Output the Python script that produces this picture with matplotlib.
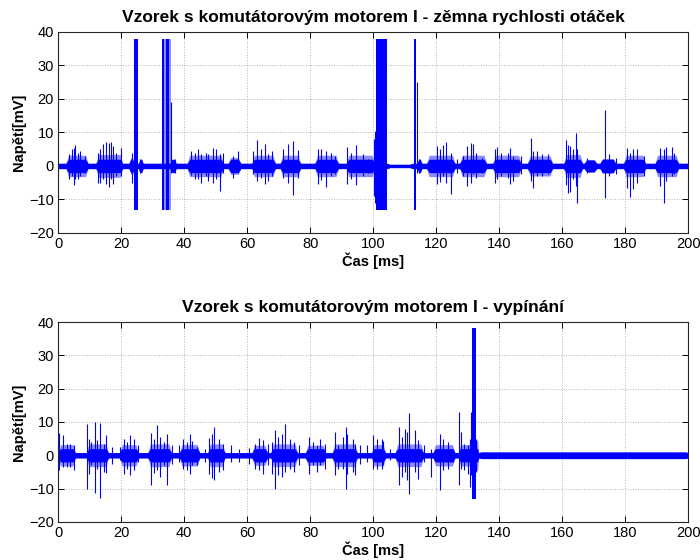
import matplotlib
matplotlib.use('Agg')
import matplotlib.pyplot as plt

plt.rcParams['font.family'] = ['Liberation Sans', 'DejaVu Sans']

# --- horní graf: změna rychlosti otáček ---
top_title = 'Vzorek s komutátorovým motorem I - zěmna rychlosti otáček'

# úseky s aktivitou komutátoru (ms) a rozkmit šumu v nich (mV)
top_burst_start = [2.5, 12.0, 22.5, 25.5, 35.5, 41.0, 54.0, 61.5, 70.5, 81.5, 91.5, 104.5, 114.0,
                   117.0, 127.5, 138.0, 149.0, 160.5, 167.0, 172.0, 179.5, 189.5]
top_burst_end = [9.5, 20.5, 24.2, 27.0, 37.5, 52.5, 58.0, 69.0, 77.0, 89.0, 100.5, 112.5, 115.5,
                 126.0, 136.0, 147.0, 157.0, 166.5, 171.0, 177.0, 186.5, 197.0]
top_burst_amp = [3.2, 3.4, 2.5, 2.0, 2.0, 3.2, 2.5, 3.2, 3.2, 3.2, 3.2, 0.5, 2.0,
                 3.2, 3.2, 3.2, 3.0, 3.4, 1.8, 2.2, 3.2, 3.2]

# jednotlivé špičky
top_spike_t = [3.5, 4.5, 5.0, 5.5, 6.2, 7.1, 8.4, 12.6, 13.2, 14.1, 15.2, 16.0, 16.8, 17.5, 18.3,
               19.9, 23.5, 26.0, 35.9, 37.0, 42.3, 43.5, 44.4, 45.5, 46.8, 47.5, 49.3, 50.2, 51.5,
               52.5, 55.5, 57.0, 62.0, 63.3, 64.4, 65.7, 66.6, 68.0, 71.5, 73.0, 74.5, 76.0, 82.4,
               83.6, 85.0, 86.5, 88.0, 91.6, 93.1, 94.7, 96.8, 98.4, 100.2, 100.5, 113.9, 114.5,
               120.3, 121.2, 122.2, 123.3, 124.7, 126.7, 128.6, 129.7, 131.2, 131.7, 132.6, 134.5,
               138.6, 139.3, 140.5, 142.9, 143.5, 144.5, 147.0, 150.0, 150.8, 152.0, 153.5, 155.5,
               161.2, 161.9, 162.5, 163.5, 164.5, 164.8, 168.0, 173.5, 175.0, 177.0, 180.5, 181.5,
               182.6, 183.8, 186.0, 191.0, 192.4, 193.1, 195.0, 195.6]
top_spike_hi = [3.5, 5.0, 5.5, 6.3, 4.0, 4.5, 3.0, 4.0, 5.0, 6.5, 7.2, 6.8, 7.0, 6.1, 4.0, 5.4,
                4.0, 2.0, 19.0, 2.0, 4.5, 4.0, 5.0, 3.5, 4.0, 3.5, 5.5, 5.0, 3.5, 4.0, 3.0, 4.6,
                4.4, 7.7, 5.0, 6.6, 3.5, 4.5, 5.0, 6.5, 7.3, 4.8, 5.0, 5.2, 4.5, 4.0, 3.0, 5.7,
                4.0, 6.2, 3.5, 2.0, 8.0, 10.5, 25.0, 2.0, 6.0, 5.0, 6.2, 7.0, 4.0, 2.0, 3.0, 6.0,
                6.9, 6.5, 4.0, 2.5, 5.0, 5.8, 4.0, 4.0, 5.5, 3.0, 3.0, 8.2, 4.5, 4.6, 3.5, 3.5,
                7.8, 6.3, 6.0, 5.0, 9.9, 5.0, 2.5, 16.8, 3.5, 2.5, 5.5, 4.0, 5.0, 5.0, 3.0, 5.5,
                5.0, 5.8, 5.6, 4.0]
top_spike_lo = [-4.0, -3.0, -5.8, -4.0, -4.0, -3.0, -2.0, -5.0, -5.2, -4.0, -5.5, -6.4, -4.0, -5.5,
                -3.0, -3.0, -5.0, -2.0, -2.0, -2.0, -2.8, -4.0, -3.8, -5.0, -3.0, -4.5, -5.0, -4.0,
                -7.5, -2.0, -3.5, -2.0, -2.5, -4.5, -3.6, -5.5, -4.5, -3.0, -3.5, -5.0, -8.7, -3.5,
                -5.5, -4.2, -6.3, -3.0, -2.5, -5.5, -4.0, -5.8, -3.0, -2.0, -9.0, -11.0, -2.0, -2.0,
                -5.5, -4.8, -3.0, -5.0, -8.3, -2.0, -3.0, -6.0, -5.0, -2.5, -3.5, -2.0, -5.0, -4.0,
                -3.0, -3.5, -5.5, -4.5, -2.5, -4.5, -6.6, -3.0, -3.0, -2.5, -5.8, -8.0, -7.8, -4.0,
                -6.0, -11.0, -2.0, -9.5, -3.0, -2.5, -6.7, -9.3, -7.0, -5.0, -3.0, -6.0, -11.0,
                -4.5, -3.0, -2.5]

# saturované úseky (ms), poslední sloupec = hustota čar
top_block_start = [24.2, 33.1, 33.1, 34.3, 100.8, 112.9]
top_block_end = [25.5, 35.8, 33.7, 35.3, 104.3, 113.7]
top_block_hi = [38, 38, 38, 38, 38, 38]
top_block_lo = [-13, -13, -13, -13, -13, -13]
top_block_alpha = [1.0, 0.45, 1.0, 1.0, 1.0, 1.0]

# --- dolní graf: vypínání ---
bot_title = 'Vzorek s komutátorovým motorem I - vypínání'

bot_burst_start = [0.0, 9.0, 19.5, 28.5, 38.5, 47.5, 61.5, 67.5, 78.5, 87.0, 99.5, 107.0, 119.0,
                   127.0, 132.5, 133.5]
bot_burst_end = [5.5, 16.0, 25.5, 36.0, 45.0, 53.0, 66.5, 76.0, 85.0, 95.0, 104.0, 116.0, 126.0,
                 131.5, 133.5, 200.0]
bot_burst_amp = [3.2, 3.4, 3.2, 3.4, 3.2, 3.4, 3.0, 3.4, 3.0, 3.4, 3.2, 3.4, 3.2,
                 3.2, 4.5, 1.0]

bot_spike_t = [0.2, 1.5, 2.8, 3.8, 5.0, 9.1, 9.8, 10.5, 11.7, 12.4, 13.2, 14.5, 15.2, 17.0, 19.6,
               20.8, 21.8, 22.7, 24.2, 25.5, 29.5, 30.3, 31.3, 32.2, 33.5, 34.6, 36.0, 38.5, 39.5,
               40.8, 41.8, 42.5, 44.0, 46.5, 48.0, 48.8, 49.6, 51.0, 52.5, 55.0, 57.5, 60.5, 62.5,
               63.8, 65.0, 66.5, 68.0, 68.8, 69.8, 71.2, 72.0, 73.5, 74.8, 76.5, 79.5, 81.0, 82.1,
               83.2, 84.8, 87.9, 88.9, 90.5, 91.3, 91.8, 93.5, 94.2, 95.8, 98.0, 100.1, 101.2,
               102.7, 103.3, 105.5, 108.3, 109.2, 110.0, 110.7, 111.5, 113.4, 114.4, 116.0, 118.5,
               121.2, 122.2, 123.8, 125.5, 127.3, 128.0, 129.0, 130.2, 130.9, 131.2, 132.8]
bot_spike_hi = [6.8, 6.0, 3.5, 3.5, 3.0, 9.5, 5.0, 4.0, 9.9, 4.5, 9.8, 3.5, 6.0, 2.5, 2.5, 5.0, 4.0,
                6.0, 5.0, 3.0, 6.8, 5.0, 9.0, 5.5, 4.0, 6.3, 3.0, 3.0, 5.0, 4.0, 6.5, 4.2, 2.5, 2.0,
                5.2, 6.3, 8.5, 5.0, 3.5, 3.0, 2.0, 2.2, 3.5, 5.2, 4.5, 3.5, 4.0, 7.5, 5.5, 6.5, 9.5,
                5.0, 4.0, 3.0, 5.5, 4.0, 3.0, 5.0, 3.5, 7.0, 3.0, 5.5, 8.5, 6.5, 5.0, 3.5, 3.0, 3.0,
                6.0, 5.0, 5.0, 4.3, 2.0, 8.5, 5.5, 8.0, 7.0, 12.8, 7.7, 4.5, 3.0, 2.0, 6.5, 5.0,
                4.0, 2.0, 13.0, 7.0, 3.5, 3.0, 5.0, 13.0, 5.0]
bot_spike_lo = [-4.5, -3.5, -3.5, -3.5, -4.5, -10.0, -5.5, -3.0, -11.2, -4.0, -12.7, -5.0, -5.2,
                -2.5, -1.5, -5.5, -4.0, -6.0, -4.5, -2.0, -9.0, -5.2, -4.5, -6.5, -3.0, -9.0, -2.5,
                -2.0, -4.0, -4.5, -5.5, -3.0, -3.0, -2.0, -5.5, -6.8, -7.5, -5.0, -4.5, -2.0, -2.0,
                -2.5, -4.0, -4.5, -5.6, -3.0, -5.5, -10.0, -6.0, -6.5, -5.0, -4.0, -5.0, -3.0, -5.5,
                -3.0, -5.0, -3.0, -4.0, -6.0, -4.0, -4.0, -10.0, -5.5, -5.0, -6.0, -2.5, -2.0, -4.0,
                -4.0, -4.0, -3.0, -1.5, -9.0, -6.5, -5.0, -7.5, -11.5, -5.0, -7.0, -2.0, -6.5,
                -10.5, -4.5, -4.0, -2.0, -9.0, -4.0, -4.5, -5.5, -9.5, -6.0, -5.0]

bot_block_start = [131.4]
bot_block_end = [132.6]
bot_block_hi = [38.3]
bot_block_lo = [-13.0]
bot_block_alpha = [1.0]

blue = '#0000ff'
quiet_amp = 0.8
core_amp = 2.0
ramp = 0.8


def band_shape(starts, ends, amps, cap=None):
    # lichoběžníková obálka: klid mimo úseky, náběh a doběh na okrajích úseku
    xs, ys = [0.0], [quiet_amp]
    for s, e, a in zip(starts, ends, amps):
        a = min(a, cap) if cap else a
        r = min(ramp, (e - s) / 3)
        xs += [s, s + r, e - r, e]
        ys += [quiet_amp, a, a, quiet_amp]
    xs.append(200.0)
    ys.append(quiet_amp)
    return xs, ys


def draw_panel(ax, title, burst_start, burst_end, burst_amp, spike_t, spike_hi, spike_lo,
               block_start, block_end, block_hi, block_lo, block_alpha):
    xo, yo = band_shape(burst_start, burst_end, burst_amp)
    ax.fill_between(xo, [-v for v in yo], yo, color=blue, alpha=0.45, lw=0)
    xc, yc = band_shape(burst_start, burst_end, burst_amp, core_amp)
    ax.fill_between(xc, [-v for v in yc], yc, color=blue, lw=0)
    ax.vlines(spike_t, spike_lo, spike_hi, color=blue, lw=0.8)
    for s, e, h, l, a in zip(block_start, block_end, block_hi, block_lo, block_alpha):
        ax.bar(s, h - l, width=e - s, bottom=l, align='edge', color=blue, alpha=a, lw=0)
    ax.set_xlim(0, 200)
    ax.set_ylim(-20, 40)
    ax.set_xticks(range(0, 201, 20))
    ax.set_yticks(range(-20, 41, 10))
    ax.grid(True, ls=':', color='#b4b4b4', lw=0.7)
    ax.set_axisbelow(True)
    ax.tick_params(direction='in', top=True, right=True, labelsize=10.5, length=4,
                   width=0.7, pad=3)
    for s in ax.spines.values():
        s.set_linewidth(0.8)
        s.set_color('#262626')
    ax.set_title(title, fontsize=12.5, fontweight='bold', pad=7)
    ax.set_xlabel('Čas [ms]', fontsize=10.5, fontweight='bold', labelpad=1)
    ax.set_ylabel('Napětí[mV]', fontsize=10.5, fontweight='bold', labelpad=2)


fig = plt.figure(figsize=(7, 5.6), dpi=100)
ax1 = fig.add_axes([0.083, 0.584, 0.9, 0.359])
ax2 = fig.add_axes([0.083, 0.068, 0.9, 0.357])

draw_panel(ax1, top_title, top_burst_start, top_burst_end, top_burst_amp, top_spike_t,
           top_spike_hi, top_spike_lo, top_block_start, top_block_end, top_block_hi,
           top_block_lo, top_block_alpha)
draw_panel(ax2, bot_title, bot_burst_start, bot_burst_end, bot_burst_amp, bot_spike_t,
           bot_spike_hi, bot_spike_lo, bot_block_start, bot_block_end, bot_block_hi,
           bot_block_lo, bot_block_alpha)

fig.savefig('out.png', dpi=100)
